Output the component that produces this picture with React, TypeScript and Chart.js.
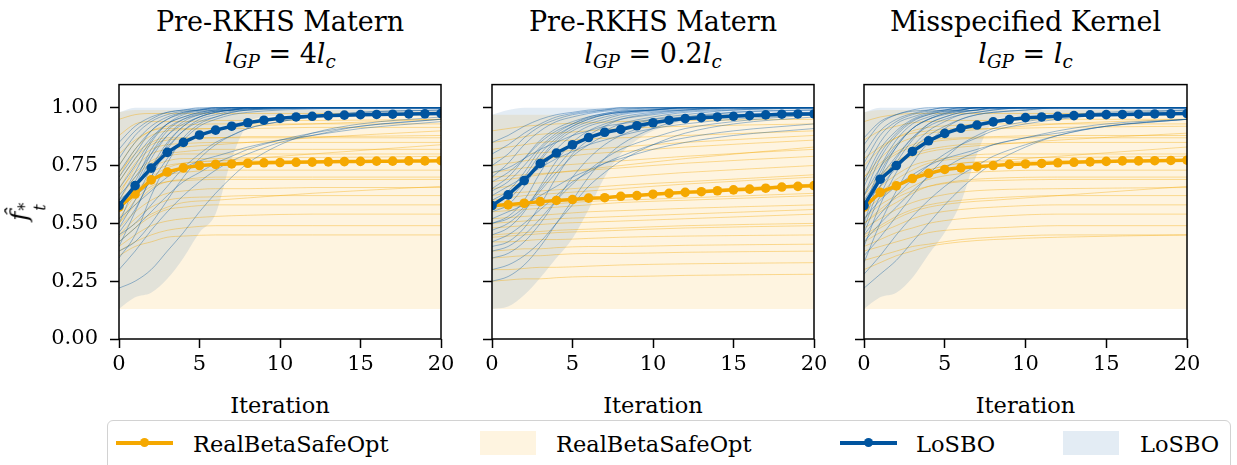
import React, { useEffect, useRef } from "react";
import { Chart, registerables } from "chart.js";
Chart.register(...registerables);

// ---------- data ----------
const X_ITER = [0,1,2,3,4,5,6,7,8,9,10,11,12,13,14,15,16,17,18,19,20];
const X_TICKS = [0,5,10,15,20];
const Y_TICKS = [0,0.25,0.5,0.75,1.0];
const X_BAND = [0,1,2,3,4,5,6,7,8,9,10,12,15,20];
const X_BLUE_RUN = [0,1,2,3,4,5,6,7,8,10,12,15,20];
const X_ORANGE_RUN = [0,1,2,3,4,6,8,12,20];

const TITLE_LINE1 = ["Pre-RKHS Matern","Pre-RKHS Matern","Misspecified Kernel"];
const TITLE_FACTOR = ["4","0.2",""];
const X_LABEL = "Iteration";
const LEGEND_LABELS = ["RealBetaSafeOpt","RealBetaSafeOpt","LoSBO","LoSBO"];

// means
const P1_BLUE_MEAN = [0.577,0.663,0.739,0.807,0.850,0.882,0.903,0.920,0.935,0.946,0.954,0.960,0.963,0.966,0.968,0.970,0.971,0.972,0.973,0.974,0.975];
const P1_ORANGE_MEAN = [0.570,0.627,0.688,0.722,0.740,0.750,0.755,0.757,0.760,0.762,0.763,0.764,0.765,0.766,0.767,0.768,0.769,0.769,0.770,0.770,0.771];
const P2_BLUE_MEAN = [0.577,0.623,0.685,0.759,0.804,0.840,0.871,0.894,0.906,0.922,0.935,0.946,0.953,0.957,0.960,0.963,0.966,0.969,0.972,0.973,0.973];
const P2_ORANGE_MEAN = [0.577,0.580,0.587,0.594,0.599,0.603,0.609,0.611,0.617,0.620,0.626,0.630,0.634,0.637,0.641,0.645,0.648,0.652,0.657,0.660,0.663];
const P3_BLUE_MEAN = [0.577,0.691,0.750,0.811,0.857,0.889,0.911,0.925,0.939,0.949,0.957,0.960,0.963,0.966,0.969,0.970,0.971,0.972,0.973,0.974,0.975];
const P3_ORANGE_MEAN = [0.570,0.634,0.662,0.694,0.716,0.733,0.740,0.745,0.750,0.755,0.757,0.759,0.762,0.764,0.766,0.768,0.770,0.770,0.771,0.772,0.773];

// bands (on X_BAND)
const P1_ORANGE_LO = [0.13,0.13,0.13,0.13,0.13,0.13,0.13,0.13,0.13,0.13,0.13,0.13,0.13,0.13];
const P1_ORANGE_HI = [0.98,0.99,0.99,0.99,0.99,0.99,0.99,0.99,0.99,0.99,0.99,0.99,0.99,0.99];
const P1_BLUE_LO = [0.13,0.18,0.20,0.26,0.35,0.46,0.54,0.78,0.93,0.96,0.965,0.97,0.97,0.97];
const P1_BLUE_HI = [0.98,1,1,1,1,1,1,1,1,1,1,1,1,1];
const P2_ORANGE_LO = [0.13,0.13,0.13,0.13,0.13,0.13,0.13,0.13,0.13,0.13,0.13,0.13,0.13,0.13];
const P2_ORANGE_HI = [0.97,0.97,0.97,0.97,0.97,0.97,0.97,0.97,0.97,0.97,0.97,0.975,0.975,0.975];
const P2_BLUE_LO = [0.13,0.14,0.19,0.265,0.35,0.435,0.56,0.70,0.80,0.86,0.90,0.94,0.96,0.965];
const P2_BLUE_HI = [0.97,0.99,1,1,1,1,1,1,1,1,1,1,1,1];
const P3_ORANGE_LO = [0.13,0.13,0.13,0.13,0.13,0.13,0.13,0.13,0.13,0.13,0.13,0.13,0.13,0.13];
const P3_ORANGE_HI = [0.98,0.99,0.99,0.99,0.99,0.99,0.99,0.99,0.99,0.99,0.99,0.99,0.99,0.99];
const P3_BLUE_LO = [0.13,0.18,0.20,0.265,0.365,0.46,0.59,0.80,0.94,0.96,0.965,0.97,0.97,0.97];
const P3_BLUE_HI = [0.98,1,1,1,1,1,1,1,1,1,1,1,1,1];

// individual runs, blue on X_BLUE_RUN
const P1_BLUE_RUNS = [
  [0.82,0.90,0.95,0.98,0.99,0.995,1,1,1,1,1,1,1],
  [0.70,0.80,0.90,0.95,0.98,0.99,0.995,1,1,1,1,1,1],
  [0.60,0.72,0.85,0.93,0.97,0.985,0.99,0.995,1,1,1,1,1],
  [0.55,0.65,0.78,0.88,0.94,0.97,0.985,0.99,0.995,1,1,1,1],
  [0.48,0.60,0.74,0.85,0.92,0.96,0.98,0.99,0.995,1,1,1,1],
  [0.40,0.55,0.70,0.82,0.90,0.95,0.97,0.985,0.99,0.995,1,1,1],
  [0.35,0.45,0.62,0.76,0.87,0.93,0.96,0.98,0.99,0.995,1,1,1],
  [0.65,0.75,0.86,0.93,0.96,0.98,0.99,0.995,1,1,1,1,1],
  [0.75,0.85,0.92,0.96,0.98,0.99,0.995,1,1,1,1,1,1],
  [0.58,0.62,0.68,0.78,0.86,0.92,0.95,0.97,0.98,0.99,0.995,1,1],
  [0.45,0.50,0.58,0.66,0.74,0.80,0.85,0.88,0.91,0.94,0.96,0.98,0.99],
  [0.30,0.38,0.47,0.55,0.62,0.68,0.73,0.77,0.80,0.85,0.88,0.92,0.95],
  [0.52,0.58,0.64,0.70,0.74,0.77,0.79,0.81,0.83,0.86,0.88,0.91,0.94],
  [0.62,0.70,0.80,0.88,0.93,0.96,0.98,0.99,0.995,1,1,1,1],
  [0.78,0.88,0.94,0.97,0.985,0.99,1,1,1,1,1,1,1],
  [0.50,0.66,0.80,0.90,0.95,0.975,0.985,0.99,1,1,1,1,1],
  [0.42,0.48,0.55,0.62,0.68,0.72,0.76,0.79,0.82,0.86,0.89,0.92,0.95],
  [0.68,0.78,0.87,0.93,0.96,0.98,0.99,1,1,1,1,1,1],
  [0.56,0.68,0.82,0.91,0.95,0.97,0.985,0.99,1,1,1,1,1],
  [0.38,0.42,0.50,0.60,0.70,0.78,0.84,0.88,0.91,0.94,0.96,0.98,0.99],
  [0.85,0.92,0.96,0.98,0.99,1,1,1,1,1,1,1,1],
  [0.60,0.66,0.74,0.83,0.90,0.94,0.96,0.98,0.99,1,1,1,1],
  [0.46,0.56,0.70,0.84,0.92,0.96,0.98,0.99,1,1,1,1,1],
  [0.72,0.82,0.90,0.95,0.975,0.99,1,1,1,1,1,1,1],
  [0.22,0.25,0.30,0.38,0.46,0.55,0.63,0.70,0.76,0.84,0.89,0.93,0.96],
];
const P2_BLUE_RUNS = [
  [0.85,0.88,0.92,0.95,0.97,0.98,0.99,0.995,1,1,1,1,1],
  [0.75,0.80,0.87,0.92,0.95,0.97,0.98,0.99,0.995,1,1,1,1],
  [0.65,0.70,0.78,0.86,0.91,0.94,0.96,0.975,0.985,0.99,1,1,1],
  [0.60,0.64,0.72,0.82,0.88,0.92,0.95,0.97,0.98,0.99,0.995,1,1],
  [0.55,0.58,0.66,0.77,0.85,0.90,0.93,0.95,0.97,0.985,0.99,1,1],
  [0.50,0.53,0.60,0.72,0.82,0.88,0.92,0.94,0.96,0.98,0.99,1,1],
  [0.45,0.48,0.55,0.66,0.77,0.85,0.90,0.93,0.95,0.97,0.985,0.995,1],
  [0.40,0.42,0.48,0.58,0.70,0.80,0.86,0.90,0.93,0.96,0.98,0.99,1],
  [0.35,0.37,0.42,0.50,0.60,0.70,0.78,0.84,0.88,0.93,0.96,0.98,0.99],
  [0.30,0.32,0.36,0.42,0.50,0.58,0.66,0.72,0.77,0.84,0.89,0.93,0.96],
  [0.70,0.76,0.84,0.90,0.94,0.96,0.975,0.985,0.99,1,1,1,1],
  [0.62,0.66,0.70,0.74,0.78,0.81,0.84,0.86,0.88,0.91,0.93,0.95,0.97],
  [0.52,0.55,0.58,0.62,0.66,0.70,0.73,0.76,0.78,0.82,0.85,0.88,0.91],
  [0.58,0.62,0.70,0.80,0.87,0.92,0.95,0.97,0.98,0.99,1,1,1],
  [0.80,0.84,0.89,0.93,0.96,0.975,0.985,0.99,1,1,1,1,1],
  [0.47,0.50,0.56,0.64,0.72,0.79,0.84,0.88,0.91,0.95,0.97,0.99,1],
  [0.42,0.45,0.50,0.56,0.62,0.68,0.72,0.76,0.79,0.84,0.87,0.90,0.93],
  [0.68,0.72,0.78,0.85,0.90,0.93,0.955,0.97,0.98,0.99,1,1,1],
  [0.56,0.60,0.68,0.78,0.86,0.91,0.94,0.96,0.975,0.99,1,1,1],
  [0.38,0.40,0.45,0.52,0.60,0.67,0.73,0.78,0.82,0.87,0.91,0.94,0.97],
  [0.25,0.27,0.32,0.40,0.50,0.60,0.70,0.78,0.84,0.91,0.95,0.98,0.99],
  [0.64,0.68,0.75,0.83,0.89,0.93,0.96,0.975,0.985,0.995,1,1,1],
  [0.72,0.74,0.78,0.82,0.85,0.88,0.90,0.92,0.93,0.95,0.96,0.97,0.98],
  [0.50,0.52,0.57,0.65,0.74,0.82,0.88,0.92,0.95,0.975,0.99,1,1],
];
const P3_BLUE_RUNS = [
  [0.84,0.93,0.97,0.985,0.99,1,1,1,1,1,1,1,1],
  [0.72,0.85,0.93,0.96,0.98,0.99,0.995,1,1,1,1,1,1],
  [0.62,0.78,0.88,0.94,0.97,0.985,0.99,1,1,1,1,1,1],
  [0.55,0.72,0.83,0.91,0.95,0.975,0.985,0.99,1,1,1,1,1],
  [0.48,0.66,0.78,0.87,0.93,0.96,0.98,0.99,0.995,1,1,1,1],
  [0.40,0.58,0.72,0.83,0.90,0.94,0.97,0.98,0.99,1,1,1,1],
  [0.33,0.50,0.64,0.76,0.85,0.91,0.95,0.97,0.98,0.99,1,1,1],
  [0.66,0.80,0.89,0.945,0.97,0.985,0.99,1,1,1,1,1,1],
  [0.76,0.88,0.94,0.97,0.985,0.99,1,1,1,1,1,1,1],
  [0.58,0.66,0.74,0.82,0.88,0.92,0.95,0.97,0.98,0.99,1,1,1],
  [0.45,0.54,0.62,0.69,0.75,0.80,0.84,0.87,0.90,0.93,0.95,0.97,0.99],
  [0.28,0.36,0.45,0.53,0.60,0.66,0.71,0.75,0.79,0.84,0.88,0.92,0.95],
  [0.52,0.60,0.66,0.71,0.75,0.78,0.80,0.82,0.84,0.87,0.89,0.92,0.95],
  [0.62,0.74,0.84,0.91,0.95,0.97,0.985,0.99,1,1,1,1,1],
  [0.80,0.90,0.95,0.975,0.99,1,1,1,1,1,1,1,1],
  [0.50,0.70,0.83,0.91,0.95,0.975,0.99,1,1,1,1,1,1],
  [0.42,0.50,0.57,0.64,0.70,0.74,0.78,0.81,0.84,0.87,0.90,0.93,0.95],
  [0.68,0.82,0.90,0.95,0.975,0.99,1,1,1,1,1,1,1],
  [0.56,0.74,0.86,0.93,0.96,0.98,0.99,1,1,1,1,1,1],
  [0.36,0.44,0.53,0.62,0.71,0.78,0.84,0.88,0.91,0.94,0.96,0.98,0.99],
  [0.87,0.94,0.97,0.99,1,1,1,1,1,1,1,1,1],
  [0.60,0.70,0.79,0.87,0.92,0.95,0.97,0.98,0.99,1,1,1,1],
  [0.46,0.62,0.76,0.86,0.93,0.96,0.98,0.99,1,1,1,1,1],
  [0.22,0.28,0.34,0.42,0.50,0.58,0.65,0.71,0.76,0.83,0.88,0.92,0.95],
];

// individual runs, orange on X_ORANGE_RUN
const P1_ORANGE_RUNS = [
  [0.95,0.97,0.975,0.975,0.975,0.975,0.975,0.975,0.975],
  [0.88,0.93,0.94,0.94,0.94,0.945,0.945,0.945,0.95],
  [0.80,0.86,0.90,0.91,0.91,0.91,0.91,0.915,0.915],
  [0.72,0.80,0.85,0.87,0.87,0.87,0.875,0.875,0.88],
  [0.65,0.76,0.82,0.84,0.845,0.85,0.85,0.85,0.85],
  [0.60,0.70,0.76,0.79,0.80,0.80,0.80,0.80,0.80],
  [0.55,0.66,0.72,0.75,0.76,0.77,0.77,0.77,0.77],
  [0.52,0.62,0.68,0.71,0.72,0.73,0.73,0.73,0.73],
  [0.50,0.58,0.65,0.68,0.69,0.70,0.70,0.70,0.70],
  [0.48,0.55,0.60,0.63,0.64,0.65,0.65,0.655,0.655],
  [0.45,0.52,0.57,0.60,0.61,0.615,0.62,0.62,0.62],
  [0.42,0.48,0.53,0.56,0.57,0.58,0.58,0.58,0.58],
  [0.40,0.45,0.49,0.51,0.52,0.53,0.535,0.54,0.54],
  [0.38,0.42,0.45,0.47,0.48,0.49,0.49,0.49,0.49],
  [0.36,0.40,0.42,0.44,0.445,0.45,0.45,0.45,0.45],
  [0.70,0.82,0.88,0.90,0.905,0.91,0.92,0.93,0.95],
  [0.62,0.74,0.80,0.82,0.83,0.84,0.85,0.87,0.90],
  [0.58,0.64,0.70,0.74,0.76,0.77,0.78,0.80,0.84],
  [0.50,0.60,0.66,0.68,0.685,0.69,0.69,0.69,0.69],
  [0.44,0.50,0.54,0.57,0.59,0.60,0.61,0.63,0.66],
  [0.68,0.78,0.84,0.86,0.865,0.87,0.87,0.87,0.87],
  [0.75,0.85,0.90,0.92,0.925,0.93,0.93,0.93,0.93],
  [0.56,0.66,0.74,0.77,0.78,0.78,0.785,0.785,0.79],
  [0.64,0.72,0.77,0.80,0.81,0.82,0.82,0.82,0.82],
];
const P2_ORANGE_RUNS = [
  [0.90,0.91,0.92,0.925,0.93,0.935,0.94,0.945,0.95],
  [0.82,0.83,0.84,0.85,0.855,0.865,0.87,0.88,0.90],
  [0.75,0.76,0.77,0.78,0.785,0.80,0.81,0.83,0.86],
  [0.70,0.705,0.71,0.715,0.72,0.73,0.74,0.76,0.79],
  [0.65,0.66,0.67,0.675,0.68,0.69,0.70,0.72,0.75],
  [0.62,0.63,0.635,0.64,0.645,0.655,0.665,0.68,0.71],
  [0.58,0.585,0.59,0.595,0.60,0.61,0.62,0.64,0.67],
  [0.55,0.555,0.56,0.565,0.57,0.58,0.59,0.60,0.62],
  [0.52,0.525,0.53,0.535,0.54,0.55,0.555,0.565,0.58],
  [0.48,0.485,0.49,0.495,0.50,0.505,0.51,0.52,0.54],
  [0.45,0.455,0.46,0.465,0.47,0.475,0.48,0.49,0.50],
  [0.42,0.42,0.425,0.43,0.43,0.435,0.44,0.445,0.45],
  [0.38,0.385,0.39,0.39,0.395,0.40,0.40,0.405,0.41],
  [0.30,0.30,0.305,0.31,0.31,0.315,0.32,0.325,0.33],
  [0.25,0.255,0.26,0.26,0.265,0.27,0.27,0.275,0.28],
  [0.85,0.86,0.875,0.885,0.89,0.90,0.91,0.92,0.93],
  [0.68,0.69,0.70,0.71,0.72,0.735,0.75,0.78,0.83],
  [0.60,0.61,0.62,0.625,0.63,0.64,0.65,0.67,0.70],
  [0.56,0.57,0.575,0.58,0.585,0.595,0.60,0.61,0.63],
  [0.50,0.505,0.51,0.515,0.52,0.525,0.53,0.54,0.56],
  [0.44,0.445,0.45,0.455,0.46,0.465,0.47,0.48,0.49],
  [0.78,0.79,0.80,0.805,0.81,0.82,0.83,0.85,0.88],
  [0.35,0.355,0.36,0.36,0.365,0.37,0.37,0.375,0.38],
  [0.72,0.73,0.74,0.745,0.75,0.76,0.77,0.79,0.82],
];
const P3_ORANGE_RUNS = [
  [0.94,0.96,0.97,0.975,0.975,0.975,0.975,0.975,0.975],
  [0.86,0.90,0.92,0.935,0.94,0.945,0.945,0.95,0.95],
  [0.78,0.83,0.87,0.89,0.90,0.91,0.91,0.915,0.92],
  [0.70,0.76,0.81,0.84,0.86,0.87,0.875,0.88,0.88],
  [0.64,0.71,0.77,0.80,0.82,0.84,0.845,0.85,0.85],
  [0.60,0.66,0.71,0.75,0.77,0.79,0.80,0.80,0.80],
  [0.55,0.61,0.66,0.70,0.73,0.76,0.765,0.77,0.77],
  [0.52,0.58,0.62,0.66,0.69,0.715,0.725,0.73,0.73],
  [0.50,0.55,0.59,0.63,0.66,0.685,0.695,0.70,0.70],
  [0.48,0.52,0.56,0.59,0.61,0.635,0.645,0.65,0.655],
  [0.45,0.49,0.53,0.56,0.58,0.60,0.61,0.62,0.62],
  [0.42,0.46,0.49,0.52,0.54,0.56,0.57,0.58,0.58],
  [0.40,0.43,0.46,0.48,0.50,0.52,0.53,0.54,0.54],
  [0.38,0.40,0.42,0.44,0.46,0.475,0.48,0.49,0.49],
  [0.34,0.36,0.38,0.40,0.41,0.43,0.44,0.45,0.45],
  [0.70,0.78,0.84,0.87,0.89,0.90,0.91,0.93,0.95],
  [0.62,0.70,0.76,0.79,0.81,0.83,0.84,0.86,0.89],
  [0.58,0.62,0.66,0.70,0.73,0.76,0.77,0.79,0.83],
  [0.50,0.56,0.61,0.64,0.66,0.68,0.685,0.69,0.69],
  [0.44,0.48,0.52,0.55,0.57,0.59,0.60,0.62,0.66],
  [0.68,0.75,0.80,0.83,0.85,0.865,0.87,0.87,0.87],
  [0.75,0.82,0.87,0.90,0.915,0.925,0.93,0.93,0.93],
  [0.56,0.63,0.69,0.73,0.76,0.78,0.785,0.785,0.79],
  [0.30,0.33,0.36,0.38,0.40,0.42,0.43,0.44,0.45],
];

// ---------- styling ----------
const ORANGE = "#F5A800";
const BLUE = "#00549F";
const ORANGE_FILL = "rgba(245,168,0,0.12)";
const BLUE_FILL = "rgba(0,84,159,0.11)";
const ORANGE_THIN = "rgba(245,168,0,0.38)";
const BLUE_THIN = "rgba(0,84,159,0.38)";
const FONT = "'DejaVu Serif', serif";

const PANELS = [
  { blueMean: P1_BLUE_MEAN, orangeMean: P1_ORANGE_MEAN, oLo: P1_ORANGE_LO, oHi: P1_ORANGE_HI, bLo: P1_BLUE_LO, bHi: P1_BLUE_HI, blueRuns: P1_BLUE_RUNS, orangeRuns: P1_ORANGE_RUNS },
  { blueMean: P2_BLUE_MEAN, orangeMean: P2_ORANGE_MEAN, oLo: P2_ORANGE_LO, oHi: P2_ORANGE_HI, bLo: P2_BLUE_LO, bHi: P2_BLUE_HI, blueRuns: P2_BLUE_RUNS, orangeRuns: P2_ORANGE_RUNS },
  { blueMean: P3_BLUE_MEAN, orangeMean: P3_ORANGE_MEAN, oLo: P3_ORANGE_LO, oHi: P3_ORANGE_HI, bLo: P3_BLUE_LO, bHi: P3_BLUE_HI, blueRuns: P3_BLUE_RUNS, orangeRuns: P3_ORANGE_RUNS },
];
const GEOM = [
  { L: 119, R: 441 },
  { L: 492, R: 814 },
  { L: 864, R: 1187 },
];
const PLOT_TOP = 81;
const PLOT_BOTTOM = 339;
const CANVAS_TOP = 60;
const X_AXIS_H = 44;
const RIGHT_PAD = 25;

const pts = (xs: number[], ys: number[]) => xs.map((x, i) => ({ x, y: ys[i] }));

const framePlugin = {
  id: "frame",
  afterDraw(chart: any) {
    const { ctx, chartArea: a } = chart;
    ctx.save();
    ctx.strokeStyle = "#000";
    ctx.lineWidth = 1.5;
    ctx.strokeRect(a.left, a.top, a.right - a.left, a.bottom - a.top);
    ctx.restore();
  },
};

function buildDatasets(p: any) {
  const ds: any[] = [];
  const hidden = { borderColor: "rgba(0,0,0,0)", borderWidth: 0, pointRadius: 0, cubicInterpolationMode: "monotone" };
  ds.push({ ...hidden, data: pts(X_BAND, p.oLo), fill: false, order: 20 });
  ds.push({ ...hidden, data: pts(X_BAND, p.oHi), fill: "-1", backgroundColor: ORANGE_FILL, order: 19 });
  ds.push({ ...hidden, data: pts(X_BAND, p.bLo), fill: false, order: 18 });
  ds.push({ ...hidden, data: pts(X_BAND, p.bHi), fill: "-1", backgroundColor: BLUE_FILL, order: 17 });
  p.orangeRuns.forEach((r: number[]) => {
    ds.push({ data: pts(X_ORANGE_RUN, r), borderColor: ORANGE_THIN, borderWidth: 1, pointRadius: 0, fill: false, cubicInterpolationMode: "monotone", order: 10 });
  });
  p.blueRuns.forEach((r: number[]) => {
    ds.push({ data: pts(X_BLUE_RUN, r), borderColor: BLUE_THIN, borderWidth: 1, pointRadius: 0, fill: false, cubicInterpolationMode: "monotone", order: 9 });
  });
  ds.push({ data: pts(X_ITER, p.orangeMean), borderColor: ORANGE, backgroundColor: ORANGE, borderWidth: 3.5, pointRadius: 4.8, pointBorderWidth: 0, pointBackgroundColor: ORANGE, fill: false, order: 1 });
  ds.push({ data: pts(X_ITER, p.blueMean), borderColor: BLUE, backgroundColor: BLUE, borderWidth: 3.5, pointRadius: 4.8, pointBorderWidth: 0, pointBackgroundColor: BLUE, fill: false, order: 0 });
  return ds;
}

function Panel({ idx }: { idx: number }) {
  const ref = useRef<HTMLCanvasElement>(null);
  const { L, R } = GEOM[idx];
  const showY = idx === 0;
  const yW = showY ? 75 : 20;
  const cw = R - L + yW + RIGHT_PAD;
  const ch = PLOT_BOTTOM - CANVAS_TOP + X_AXIS_H;
  useEffect(() => {
    const tickFont = { family: FONT, size: 21 };
    const chart = new Chart(ref.current as HTMLCanvasElement, {
      type: "line",
      data: { datasets: buildDatasets(PANELS[idx]) },
      options: {
        animation: false,
        responsive: false,
        devicePixelRatio: 1,
        layout: { padding: { left: 0, right: RIGHT_PAD, top: PLOT_TOP - CANVAS_TOP, bottom: 0 } },
        plugins: { legend: { display: false }, tooltip: { enabled: false } },
        elements: { line: { tension: 0 } },
        scales: {
          x: {
            type: "linear",
            min: 0,
            max: 20,
            afterBuildTicks: (s: any) => { s.ticks = X_TICKS.map((v) => ({ value: v })); },
            afterFit: (s: any) => { s.height = X_AXIS_H; },
            grid: { drawOnChartArea: false, drawTicks: true, tickLength: 9, tickWidth: 1.5, tickColor: "#000" },
            border: { display: false },
            ticks: { font: tickFont, color: "#000", padding: 4, maxRotation: 0, autoSkip: false, callback: (v: any) => String(v) },
          },
          y: {
            type: "linear",
            min: 0,
            max: 1.1,
            afterBuildTicks: (s: any) => { s.ticks = Y_TICKS.map((v) => ({ value: v })); },
            afterFit: (s: any) => { s.width = yW; },
            grid: { drawOnChartArea: false, drawTicks: true, tickLength: 9, tickWidth: 1.5, tickColor: "#000" },
            border: { display: false },
            ticks: { font: tickFont, color: "#000", padding: 12, autoSkip: false, callback: (v: any) => (showY ? Number(v).toFixed(2) : "") },
          },
        },
      } as any,
      plugins: [framePlugin],
    });
    return () => chart.destroy();
  }, []);
  return (
    <canvas
      ref={ref}
      width={cw}
      height={ch}
      style={{ position: "absolute", left: L - yW, top: CANVAS_TOP, width: cw, height: ch }}
    />
  );
}

const subStyle: React.CSSProperties = { fontSize: "0.68em", verticalAlign: "-0.28em", lineHeight: 0 };

function Titles({ idx }: { idx: number }) {
  const { L, R } = GEOM[idx];
  const common: React.CSSProperties = {
    position: "absolute", left: L - 40, width: R - L + 80, textAlign: "center",
    fontSize: 27, lineHeight: 1, whiteSpace: "nowrap",
  };
  return (
    <>
      <div style={{ ...common, top: 8 }}>{TITLE_LINE1[idx]}</div>
      <div style={{ ...common, top: 40 }}>
        <i>l</i><span style={subStyle}><i>GP</i></span>
        {" = "}
        {TITLE_FACTOR[idx]}<i>l</i><span style={subStyle}><i>c</i></span>
      </div>
      <div style={{ position: "absolute", left: L - 20, width: R - L + 40, top: 394, textAlign: "center", fontSize: 22.5, lineHeight: 1, whiteSpace: "nowrap" }}>
        {X_LABEL}
      </div>
    </>
  );
}

function LegendLine({ left, color }: { left: number; color: string }) {
  return (
    <>
      <div style={{ position: "absolute", left, top: 441, width: 57, height: 3.5, background: color }} />
      <div style={{ position: "absolute", left: left + 28.5 - 4.7, top: 438, width: 9.4, height: 9.4, borderRadius: "50%", background: color }} />
    </>
  );
}

function Legend() {
  const txt = (left: number, s: string) => (
    <div style={{ position: "absolute", left, top: 433, fontSize: 22.5, lineHeight: 1, whiteSpace: "nowrap" }}>{s}</div>
  );
  return (
    <>
      <div style={{ position: "absolute", left: 107, top: 420, width: 1124, height: 70, border: "1.5px solid #d2d2d2", borderRadius: 6, boxSizing: "border-box" }} />
      <LegendLine left={116} color={ORANGE} />
      {txt(193, LEGEND_LABELS[0])}
      <div style={{ position: "absolute", left: 480, top: 431, width: 56, height: 24, background: ORANGE_FILL }} />
      {txt(556, LEGEND_LABELS[1])}
      <LegendLine left={840} color={BLUE} />
      {txt(916, LEGEND_LABELS[2])}
      <div style={{ position: "absolute", left: 1063, top: 431, width: 56, height: 24, background: BLUE_FILL }} />
      {txt(1140, LEGEND_LABELS[3])}
    </>
  );
}

export default function App() {
  return (
    <div style={{ position: "absolute", left: 0, top: 0, width: 1237, height: 465, overflow: "hidden", background: "#fff", fontFamily: FONT, color: "#000" }}>
      {[0, 1, 2].map((i) => <Titles key={"t" + i} idx={i} />)}
      {[0, 1, 2].map((i) => <Panel key={"p" + i} idx={i} />)}
      <div style={{ position: "absolute", left: 10, top: 197, width: 34, height: 30, display: "flex", alignItems: "center", justifyContent: "center" }}>
        <div style={{ transform: "rotate(-90deg)", fontSize: 25, lineHeight: 1, whiteSpace: "nowrap" }}>
          <i>f&#770;</i>
          <span style={{ display: "inline-flex", flexDirection: "column", fontSize: 16, lineHeight: 0.95, verticalAlign: "-0.2em", marginLeft: 1 }}>
            <span>*</span>
            <span><i>t</i></span>
          </span>
        </div>
      </div>
      <Legend />
    </div>
  );
}
